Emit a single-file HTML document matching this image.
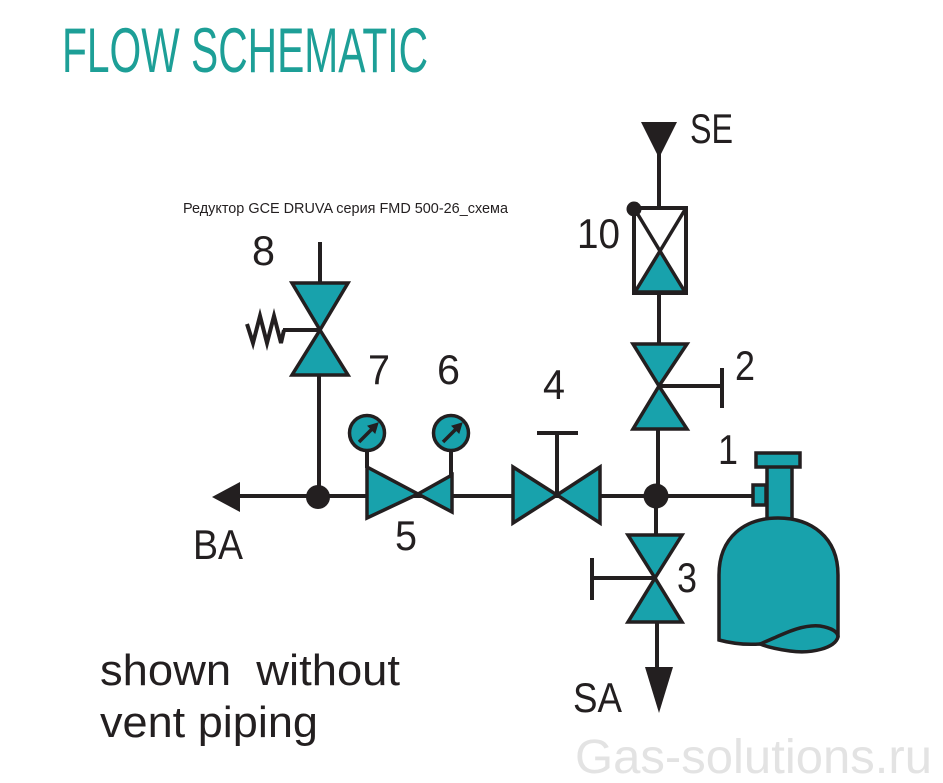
<!DOCTYPE html>
<html>
<head>
<meta charset="utf-8">
<style>
  html,body{margin:0;padding:0;background:#fff;}
  svg{display:block;}
  text{font-family:"Liberation Sans", "Noto Sans CJK SC", sans-serif;}
</style>
</head>
<body>
<svg width="943" height="783" viewBox="0 0 943 783" xmlns="http://www.w3.org/2000/svg">
  <rect width="943" height="783" fill="#fff"/>

  <!-- Title -->
  <text x="62" y="72" font-size="63" fill="#1d9f97" textLength="366" lengthAdjust="spacingAndGlyphs">FLOW SCHEMATIC</text>

  <!-- Caption -->
  <text x="183" y="213" font-size="15" fill="#231f20" textLength="325" lengthAdjust="spacingAndGlyphs">Редуктор GCE DRUVA серия FMD 500-26_схема</text>

  <g stroke="#231f20" stroke-width="4" fill="none" stroke-linecap="butt">
    <line x1="659" y1="150" x2="659" y2="208"/>
    <line x1="659" y1="293" x2="659" y2="344"/>
    <line x1="658" y1="429" x2="658" y2="496"/>
    <line x1="656" y1="496" x2="656" y2="535"/>
    <line x1="657" y1="622" x2="657" y2="680"/>
    <line x1="238" y1="496" x2="754" y2="496"/>
    <line x1="320" y1="242" x2="320" y2="283"/>
    <line x1="319" y1="375" x2="319" y2="497"/>
    <line x1="320" y1="330" x2="283" y2="330"/>
    <polyline points="284,330 281,343 274,316 267,343 260,316 253,343 247,324"/>
    <line x1="659" y1="386" x2="722" y2="386"/>
    <line x1="722" y1="368" x2="722" y2="408"/>
    <line x1="655" y1="578" x2="592" y2="578"/>
    <line x1="592" y1="558" x2="592" y2="600"/>
    <line x1="557" y1="495" x2="557" y2="433"/>
    <line x1="537" y1="433" x2="578" y2="433"/>
    <line x1="367" y1="450" x2="367" y2="468"/>
    <line x1="451" y1="450" x2="451" y2="476"/>
  </g>

  <polygon points="641,122 677,122 659,158" fill="#231f20"/>
  <polygon points="645,667 673,667 659,713" fill="#231f20"/>
  <polygon points="212,497 240,482 240,512" fill="#231f20"/>

  <g stroke="#231f20" stroke-width="3.5" stroke-linejoin="miter" fill="#18a2ac">
    <rect x="634" y="208" width="52" height="85" fill="#fff" stroke-width="4"/>
    <line x1="634" y1="208" x2="660" y2="251" fill="none"/>
    <line x1="686" y1="208" x2="660" y2="251" fill="none"/>
    <polygon points="660,251 635,292 685,292"/>

    <polygon points="633,344 687,344 659,386"/>
    <polygon points="659,386 633,429 687,429"/>

    <polygon points="628,535 682,535 655,578"/>
    <polygon points="655,578 628,622 682,622"/>

    <polygon points="292,283 348,283 320,330"/>
    <polygon points="320,330 292,375 348,375"/>

    <polygon points="367,467 367,518 418,494"/>
    <polygon points="418,494 452,475 452,512"/>

    <polygon points="513,467 513,523 557,495"/>
    <polygon points="557,495 600,467 600,523"/>

    <circle cx="367" cy="433" r="17.5"/>
    <circle cx="451" cy="433" r="17.5"/>

    <rect x="767" y="466" width="25" height="53"/>
    <rect x="756" y="453" width="44" height="14"/>
    <rect x="753" y="485" width="13" height="20"/>
    <path d="M719,640 L719,575 C719,537 745,518 778,518 C811,518 838,537 838,575 L838,637 C835,648 812,654 790,651 C775,649 765,646 760,644 C745,645 730,643 719,640 Z"/>
    <path d="M760,644 C780,636 800,624 820,626 C832,628 838,632 838,637" fill="none"/>
  </g>

  <g stroke="#231f20" stroke-width="3.5" fill="#231f20">
    <line x1="359" y1="442" x2="372" y2="429"/>
    <polygon points="378,423 368,426 375,433" stroke-width="1"/>
    <line x1="443" y1="442" x2="456" y2="429"/>
    <polygon points="462,423 452,426 459,433" stroke-width="1"/>
  </g>

  <circle cx="634" cy="209" r="7.5" fill="#231f20"/>
  <circle cx="318" cy="497" r="12" fill="#231f20"/>
  <circle cx="656" cy="496" r="12.5" fill="#231f20"/>

  <g fill="#231f20" font-size="42">
    <text x="690" y="143" textLength="43" lengthAdjust="spacingAndGlyphs">SE</text>
    <text x="577" y="248" textLength="43" lengthAdjust="spacingAndGlyphs">10</text>
    <text x="252" y="265" textLength="23" lengthAdjust="spacingAndGlyphs">8</text>
    <text x="368" y="384" textLength="22" lengthAdjust="spacingAndGlyphs">7</text>
    <text x="437" y="384" textLength="23" lengthAdjust="spacingAndGlyphs">6</text>
    <text x="543" y="399" textLength="22" lengthAdjust="spacingAndGlyphs">4</text>
    <text x="735" y="380" textLength="20" lengthAdjust="spacingAndGlyphs">2</text>
    <text x="718" y="464" textLength="20" lengthAdjust="spacingAndGlyphs">1</text>
    <text x="395" y="550" textLength="22" lengthAdjust="spacingAndGlyphs">5</text>
    <text x="677" y="592" textLength="20" lengthAdjust="spacingAndGlyphs">3</text>
    <text x="193" y="559" textLength="50" lengthAdjust="spacingAndGlyphs">BA</text>
    <text x="573" y="712" textLength="49" lengthAdjust="spacingAndGlyphs">SA</text>
  </g>

  <g fill="#231f20" font-size="44">
    <text x="100" y="685" xml:space="preserve" textLength="300" lengthAdjust="spacingAndGlyphs">shown  without</text>
    <text x="100" y="737" textLength="218" lengthAdjust="spacingAndGlyphs">vent piping</text>
  </g>

  <text x="575" y="773" font-size="48" fill="#e3e3e3" textLength="357" lengthAdjust="spacingAndGlyphs">Gas-solutions.ru</text>
</svg>
</body>
</html>
